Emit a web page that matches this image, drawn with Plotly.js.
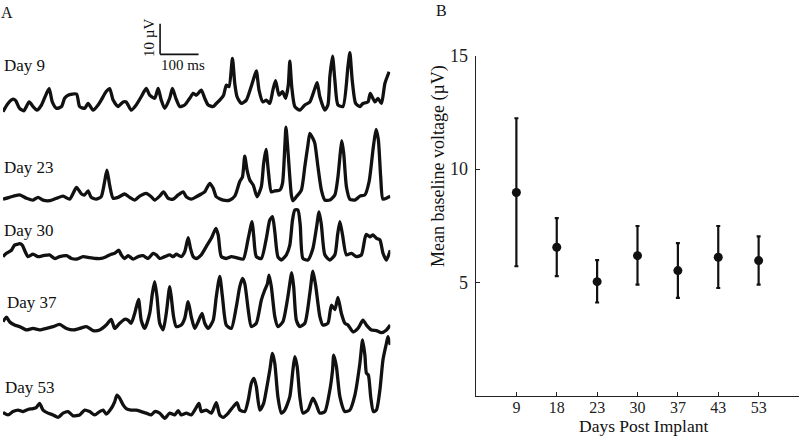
<!DOCTYPE html>
<html>
<head>
<meta charset="utf-8">
<script src="https://cdn.plot.ly/plotly-3.0.1.min.js"></script>
<style>
	html, body { margin: 0; padding: 0; background: #fff; }
	#graph { width: 800px; height: 437px; }
</style>
</head>
<body>
<div id="graph"></div>
<script>
// ---- Panel A: baseline traces (time in ms, voltage in µV above the trace minimum) ----
const day9Ms = [0,13,26,33,43,54,68,78,88,100,113,120,128,139,152,160,169,191,199,212,221,234,247,255,268,277,286,299,312,320,333,346,359,372,381,394,403,411,420,433,440,449,459,472,485,494,502,515,524,533,546,554,563,573,580,587,596,602,608,619,632,643,650,658,665,675,684,693,701,708,717,726,734,741,745,750,758,771,784,797,810,816,823,836,844,849,856,862,870,883,896,901,907,916,927,935,948,954,966,974,983,992,1003]
const day9Uv = [0,2.7,4.1,3.6,1.1,0.3,3.2,1.7,0.5,2.2,6.0,7.6,3.2,1.1,1.7,4.4,5.4,5.8,1.7,1.1,2.7,0.5,2.2,3.8,6.6,7.6,3.8,1.7,3.2,3.2,0.5,2.2,4.9,7.6,5.4,4.4,7.6,3.8,1.1,4.4,7.6,4.4,1.7,2.2,4.4,6.0,5.4,7.1,4.4,2.2,1.7,2.7,3.8,5.4,8.7,8.2,17.5,9.3,4.9,2.7,3.8,7.6,10.4,13.4,7.1,3.2,3.8,2.7,7.1,10.2,5.4,6.6,4.4,8.7,16.6,8.2,1.7,0.5,2.2,3.2,7.6,9.5,4.9,0.5,2.2,11.5,18.2,10.4,2.2,1.7,14.8,19.4,10.4,2.7,1.7,2.7,3.2,6.0,3.2,4.4,2.7,9.3,13.1]

const day23Ms = [0,17,43,61,78,91,104,121,139,156,173,184,191,204,212,221,229,242,255,264,270,277,286,299,316,329,342,355,372,385,394,407,417,429,442,455,468,476,489,502,515,524,537,546,554,572,589,602,608,615,622,628,634,641,650,660,671,677,683,689,697,706,719,726,732,735,740,749,753,762,775,784,792,797,805,810,818,827,836,849,862,870,876,880,885,892,901,914,927,940,951,962,969,975,981,987,1000,1006]
const day23Uv = [0.5,1.1,1.9,0.8,0.2,1.1,0.2,0,0.8,1.5,0.5,2.9,4.4,2.2,1.9,3.2,1.1,0.5,1.3,6.3,10.0,5.1,0.8,1.1,2.2,1.1,0.2,1.5,2.4,1.3,0.2,1.5,2.9,0.8,0.5,1.9,2.9,1.3,0.5,1.3,2.2,2.9,5.7,4.1,1.3,0.2,0.2,1.5,3.5,6.3,7.8,14.6,10.0,6.8,5.1,1.3,4.6,12.2,16.8,10.0,2.9,3.2,3.5,5.7,17.7,24.1,16.6,1.9,0,1.3,3.5,11.2,18.2,22.1,20.4,18.8,11.2,3.5,0.2,0.2,1.9,7.8,15.5,19.7,15.5,4.6,0.5,0.2,1.5,1.9,6.3,17.7,23.4,19.9,7.8,0.5,1.1,1.5]

const day30Ms = [0,9,22,30,36,43,50,56,65,78,91,104,121,134,147,165,178,191,208,225,242,255,268,281,290,301,307,316,325,338,351,364,377,390,398,407,420,433,442,450,463,472,481,487,494,502,515,528,541,553,559,567,580,593,606,624,637,647,651,658,671,684,693,700,706,714,723,736,745,752,758,766,772,779,792,805,814,821,827,836,849,862,869,875,882,892,905,918,931,940,944,953,961,970,979,987,996,1006]
const day30Uv = [1.1,2.2,3.2,4.9,5.1,5.4,4.9,3.2,1.1,1.9,1.1,1.4,1.7,0.5,1.1,1.4,0.5,0.3,1.1,0.8,0.5,0.5,1.1,1.9,2.2,3.2,1.7,0.5,1.4,0.3,1.1,1.4,0.5,2.2,1.7,0.5,1.1,1.7,1.1,1.9,1.1,2.7,7.3,3.8,1.1,0.5,1.7,4.4,7.1,10.4,8.2,1.1,0.5,1.1,0.8,0.3,7.1,12.6,8.2,1.1,0.5,7.1,13.1,14.2,9.3,1.1,0,1.7,4.9,13.1,16.4,16.4,11.5,0.5,0,3.8,10.4,15.8,11.5,1.7,0,1.7,8.2,12.6,8.2,1.7,2.2,1.1,1.7,7.1,8.4,7.6,8.2,7.1,6.6,2.2,0,3.2]

const day37Ms = [0,9,17,30,43,61,78,95,113,130,147,165,182,199,217,234,251,268,281,290,303,316,325,333,342,352,359,368,381,388,394,400,407,416,424,433,437,443,450,463,472,481,489,498,507,517,524,533,546,554,563,570,580,593,606,615,622,628,637,645,658,671,680,687,691,697,706,714,727,740,750,755,762,771,784,797,805,812,823,831,844,853,862,870,879,888,896,909,922,935,944,957,970,983,996,1006]
const day37Uv = [3.6,5.1,3.6,2.5,2.0,0.9,1.4,0.9,1.4,2.0,2.7,1.4,0.9,1.4,2.0,0.7,0.9,2.5,4.4,1.4,3.1,4.4,4.1,3.1,6.3,10.9,4.1,1.4,6.3,12.9,16.7,11.8,3.1,0.9,6.3,15.1,11.8,5.3,2.0,2.5,4.7,10.2,5.3,1.4,3.6,6.3,3.1,1.4,4.1,11.8,18.5,11.8,2.5,1.4,8.5,15.1,17.8,16.1,7.5,2.0,3.1,10.7,14.0,16.1,18.9,15.1,5.3,2.0,3.6,11.8,19.7,15.1,4.1,2.0,3.1,12.9,20.2,15.6,5.3,2.5,3.1,9.0,7.6,11.6,6.3,3.1,2.5,0.3,1.4,4.1,2.5,0.9,0.7,0,0.9,2.5]

const day53Ms = [0,13,26,39,52,65,78,87,95,104,117,130,143,156,169,182,199,212,225,238,251,260,268,281,290,296,303,312,320,333,346,359,372,385,394,407,420,433,446,455,463,476,489,498,509,515,528,541,554,563,572,585,598,608,615,628,637,645,652,658,667,677,684,693,700,706,714,723,732,745,753,758,764,771,779,792,805,814,823,836,849,856,859,866,875,888,901,914,927,934,940,944,949,955,962,970,979,987,996,1000,1006]
const day53Uv = [1.9,1.1,2.2,2.7,2.2,2.9,3.2,3.6,4.9,2.7,1.7,1.1,0.3,1.7,2.2,0.8,1.1,2.7,2.2,1.1,2.2,2.7,1.4,3.2,5.4,7.6,6.6,4.4,3.2,2.7,2.7,2.2,1.7,1.1,2.2,1.7,0,1.7,1.1,2.5,1.1,1.7,1.1,2.7,4.9,2.2,2.7,1.7,5.1,1.1,0.3,1.7,3.8,5.1,2.7,2.2,6.0,11.5,13.1,10.4,2.7,4.9,9.3,15.8,21.3,18.0,7.1,1.7,2.7,7.1,15.8,20.2,17.0,7.1,1.7,2.7,6.6,4.4,1.7,2.2,9.3,15.8,20.7,17.0,7.1,2.2,2.7,7.6,18.0,25.7,20.7,14.8,14.2,7.1,2.2,2.7,9.3,19.2,24.6,26.8,24.1]

const dayLabels = ['Day 9', 'Day 23', 'Day 30', 'Day 37', 'Day 53']

// scale bar
const scaleBarUv = 10
const scaleBarMs = 100

// ---- Panel B: mean baseline voltage per recording day ----
const implantDays = ['9', '18', '23', '30', '37', '43', '53']
const meanUv  = [8.97, 6.55, 5.03, 6.18, 5.52, 6.11, 5.96]
const upperUv = [12.25, 7.84, 5.98, 7.49, 6.73, 7.49, 7.03]
const lowerUv = [5.71, 5.27, 4.11, 4.90, 4.31, 4.75, 4.90]


const W = 800, H = 437
const fx = (x) => x / W
const fy = (y) => 1 - y / H
const PX_PER_UV = 3.05		// 10 µV bar is ~30 px tall
const INK = '#111'
const SERIF = 'Liberation Serif, Times New Roman, serif'

// where each trace row sits on the page (pixel y of 0 µV, label placement)
const rows = [
	{ t: day9Ms,  v: day9Uv,  base: 111.7, labelX: 2, labelY: 66 },
	{ t: day23Ms, v: day23Uv, base: 200.7, labelX: 2, labelY: 167 },
	{ t: day30Ms, v: day30Uv, base: 260.0, labelX: 2, labelY: 230 },
	{ t: day37Ms, v: day37Uv, base: 332.7, labelX: 5, labelY: 302 },
	{ t: day53Ms, v: day53Uv, base: 418.3, labelX: 3, labelY: 387 },
]

const data = []
const layout = {
	width: W, height: H,
	margin: { l: 0, r: 0, t: 0, b: 0 },
	paper_bgcolor: '#fff',
	plot_bgcolor: 'rgba(0,0,0,0)',
	showlegend: false,
	font: { family: SERIF, color: INK },
	xaxis: { domain: [fx(3), fx(390.3)], range: [0, 1006], visible: false, fixedrange: true },
	annotations: [],
	shapes: [],
}

const note = (text, x, y, size, extra) => Object.assign({
	text: text, xref: 'paper', yref: 'paper', x: fx(x), y: fy(y),
	xanchor: 'center', yanchor: 'middle', showarrow: false,
	font: { size: size, family: SERIF, color: INK },
}, extra || {})

rows.forEach((row, i) => {
	const yName = i == 0 ? 'y' : 'y' + (i + 1)
	const axName = i == 0 ? 'yaxis' : 'yaxis' + (i + 1)
	layout[axName] = {
		domain: [fy(row.base + 1.5 * PX_PER_UV), fy(row.base - 30 * PX_PER_UV)],
		range: [-1.5, 30],
		visible: false,
		fixedrange: true,
	}
	data.push({
		type: 'scatter', mode: 'lines',
		x: row.t, y: row.v,
		xaxis: 'x', yaxis: yName,
		line: { color: INK, width: 3.3, shape: 'spline', smoothing: 0.6 },
		hoverinfo: 'skip',
	})
	layout.annotations.push(note(dayLabels[i], row.labelX, row.labelY, 17, { xanchor: 'left' }))
})

// scale bar on the Day 9 row
const sbX = 408, sbY = 18.8
layout.shapes.push(
	{ type: 'line', xref: 'x', yref: 'y', x0: sbX, x1: sbX, y0: sbY, y1: sbY + scaleBarUv, line: { color: INK, width: 1.6 } },
	{ type: 'line', xref: 'x', yref: 'y', x0: sbX, x1: sbX + scaleBarMs, y0: sbY, y1: sbY, line: { color: INK, width: 1.6 } },
)
layout.annotations.push(
	note(scaleBarUv + ' µV', 149, 38, 15, { textangle: -90 }),
	note(scaleBarMs + ' ms', 183, 65, 15),
	note('A', 7, 12, 16),
	note('B', 441, 10, 16),
	note('Mean baseline voltage (µV)', 438, 166, 18, { textangle: -90 }),
	// sits right on the bottom edge, as in the reference
	note('Days Post Implant', 643, 437, 17.5, { yanchor: 'bottom', borderpad: 0 }),
)

// panel B
data.push({
	type: 'scatter', mode: 'markers',
	x: implantDays, y: meanUv,
	xaxis: 'x2', yaxis: 'y6',
	marker: { size: 9, color: INK },
	error_y: {
		type: 'data', symmetric: false,
		array: upperUv.map((u, i) => u - meanUv[i]),
		arrayminus: lowerUv.map((l, i) => meanUv[i] - l),
		color: INK, thickness: 2.2, width: 2,
	},
	hoverinfo: 'skip',
})

const axisB = {
	showline: true, linecolor: '#222', linewidth: 1.3,
	ticks: 'inside', ticklen: 4, tickcolor: '#222', tickwidth: 1,
	showgrid: false, zeroline: false, fixedrange: true,
	tickfont: { size: 16, family: SERIF, color: '#222' },
}
layout.xaxis2 = Object.assign({}, axisB, {
	domain: [fx(476), fx(799)], anchor: 'y6', type: 'category', range: [-1, 7],
	ticklabelstandoff: -3,
})
layout.yaxis6 = Object.assign({}, axisB, {
	domain: [fy(395.5), fy(56)], anchor: 'x2', range: [0, 15], tickvals: [5, 10, 15],
	ticklabelstandoff: 3,
	tickfont: { size: 18, family: SERIF, color: '#222' },
})

Plotly.newPlot('graph', data, layout, { displayModeBar: false, staticPlot: true })
</script>
</body>
</html>
